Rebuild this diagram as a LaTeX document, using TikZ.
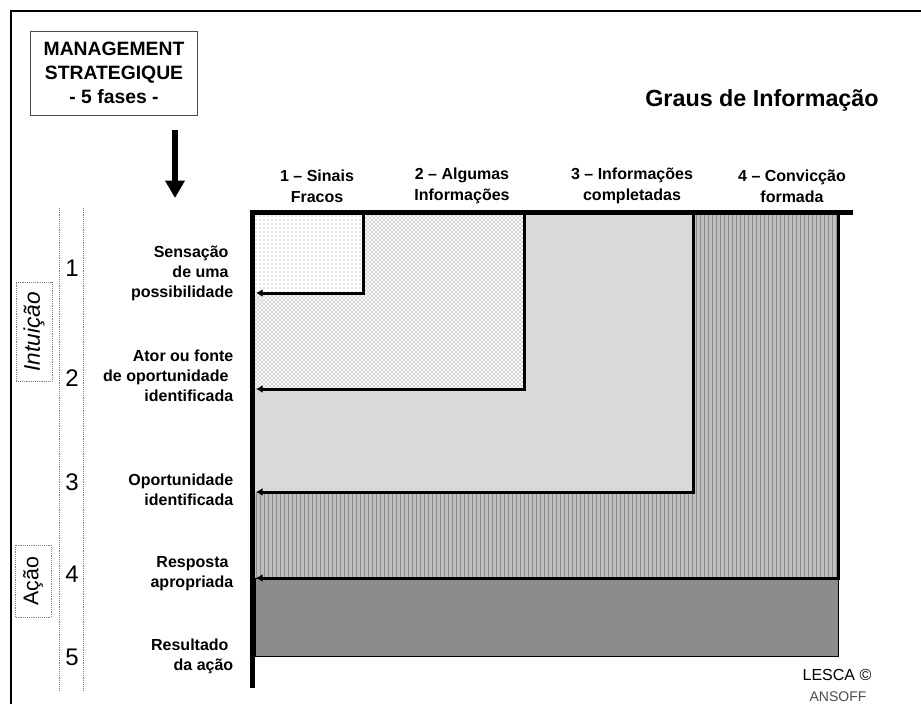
\documentclass[tikz,border=0pt]{standalone}
\usepackage{fontspec}
\setmainfont{Liberation Sans}
\usetikzlibrary{patterns,arrows.meta}

\newcommand{\tsp}{\kern.3em}

\tikzset{
  frase/.style={anchor=east, align=right, font=\bfseries\fontsize{12}{15}\selectfont},
  grau/.style={align=center, font=\bfseries\fontsize{12}{15.75}\selectfont},
  fase/.style={font=\fontsize{18}{18}\selectfont},
  zona/.style={draw=gray, densely dotted, rotate=90, minimum height=27pt, inner sep=0pt},
  volta/.style={line width=2.25pt, -{Latex[length=5pt,width=6pt]}},
  nivelum/.style={pattern=dots, pattern color=gray!80},
  niveldois/.style={pattern=crosshatch dots, pattern color=black!55},
  niveltres/.style={fill=black!15},
  nivelquatro/.style={pattern=vertical lines, pattern color=black!45},
  nivelcinco/.style={fill=black!45, draw=black, thin}
}

\begin{document}
\begin{tikzpicture}[x=0.75pt, y=-0.75pt]
  \useasboundingbox (0,0) rectangle (921,704);
  \draw[line width=1.5pt] (11,704) -- (11,11) -- (921,11);

  % titulo e caixa
  \node[draw=black!70, thin, minimum width=125pt, minimum height=63pt, align=center,
        font=\bfseries\fontsize{14.5}{18}\selectfont] (mgmt) at (114,73)
        {MANAGEMENT\\STRATEGIQUE\\- 5 fases -};
  \node[font=\bfseries\fontsize{17.5}{20}\selectfont] (titulo) at (762,100) {Graus de Informação};
  \coordinate (setatopo) at (175,130);
  \coordinate (setafim) at (175,198);
  \draw[line width=4.5pt, -{Triangle[length=13pt,width=14pt]}] (setatopo) -- (setafim);

  % graus de informacao
  \node[grau] (g1) at (317,186) {1 – Sinais\\Fracos};
  \node[grau] (g2) at (462,186) {2 – Algumas\\Informações};
  \node[grau] (g3) at (632,186) {3 – Informações\\completadas};
  \node[grau] (g4) at (792,186) {4 – Convicção\\formada};

  % zonas
  \coordinate (o) at (255,215);
  \fill[black!25] (o) rectangle (838,578);
  \fill[nivelquatro] (o) rectangle (838,578);
  \fill[niveltres] (o) rectangle (693,492);
  \fill[gray!6] (o) rectangle (524,389);
  \fill[niveldois] (o) rectangle (524,389);
  \fill[white] (o) rectangle (363,293);
  \fill[nivelum] (o) rectangle (363,293);
  \draw[nivelcinco] (255,578) rectangle (838,656);

  \coordinate (c1) at (363,212);
  \coordinate (c2) at (524,212);
  \coordinate (c3) at (693,212);
  \coordinate (c4) at (838.5,212);
  \coordinate (a1) at (256,293);
  \coordinate (a2) at (256,389);
  \coordinate (a3) at (256,492);
  \coordinate (a4) at (256,578);
  \foreach \i in {1,...,4}
    \draw[volta] (c\i) |- (a\i);

  % eixos
  \coordinate (eixoesq) at (250,212.5);
  \coordinate (eixodir) at (853,212.5);
  \coordinate (eixobaixo) at (252.5,688);
  \draw[line width=3.75pt] (eixoesq) -- (eixodir);
  \draw[line width=3.75pt] (252.5,210.6) -- (eixobaixo);

  % fases
  \draw[gray, densely dotted] (59,208) -- (59,690);
  \draw[gray, densely dotted] (83,208) -- (83,690);
  \foreach \n/\y in {1/268,2/378,3/482,4/574,5/657}
    \node[fase] (f\n) at (72,\y) {\n};

  \node[frase] (s1) at (238,273) {Sensação\tsp\\de uma\tsp\\possibilidade};
  \node[frase] (s2) at (238,376) {Ator ou fonte\\de oportunidade\tsp\\identificada};
  \node[frase] (s3) at (238,490) {Oportunidade\\identificada};
  \node[frase] (s4) at (238,574) {Resposta\tsp\\apropriada};
  \node[frase] (s5) at (238,656) {Resultado\tsp\\da ação};

  \node[zona, minimum width=74pt, font=\itshape\fontsize{17}{17}\selectfont] (intuicao) at (34,332) {Intuição};
  \node[zona, minimum width=54pt, font=\fontsize{16}{16}\selectfont] (acao) at (33,581) {Ação};

  % autoria
  \node[font=\fontsize{12}{12}\selectfont] (lesca) at (837,675) {LESCA ©};
  \node[font=\fontsize{10.5}{10.5}\selectfont, text=black!70] (ansoff) at (838,697) {ANSOFF};
\end{tikzpicture}
\end{document}
